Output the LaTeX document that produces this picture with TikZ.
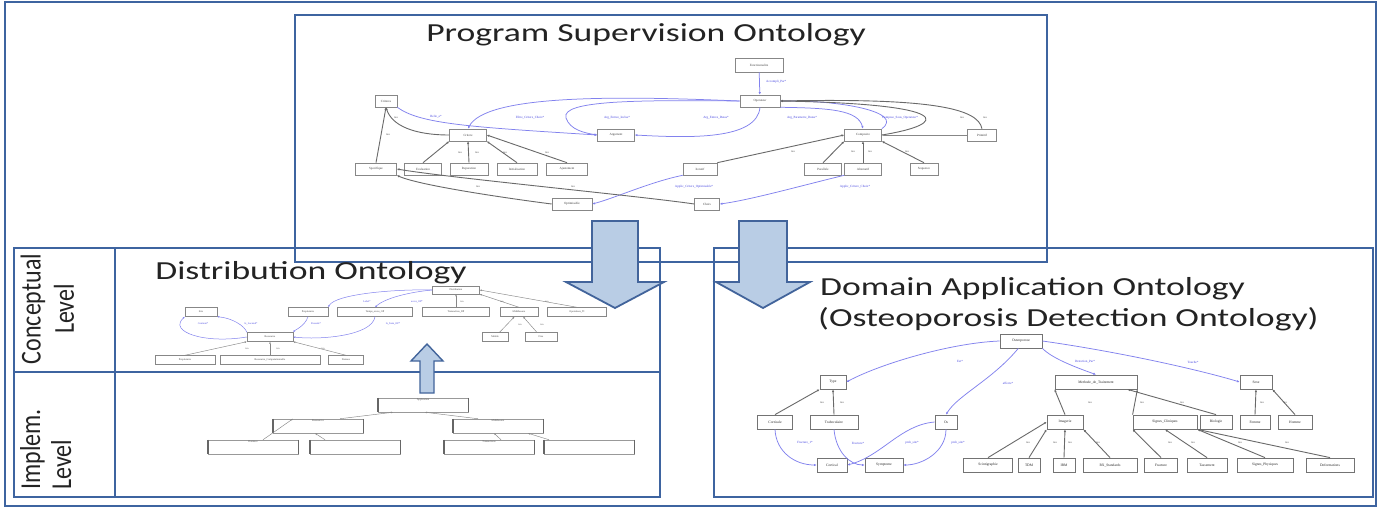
\documentclass[tikz,border=0pt]{standalone}
\usepackage{fontspec}
\setmainfont{Carlito}
\newfontfamily\serifnode{Liberation Serif}
\usetikzlibrary{arrows.meta,calc}

\definecolor{framec}{RGB}{62,100,160}
\definecolor{arrfill}{RGB}{185,205,229}
\definecolor{arrdraw}{RGB}{66,100,155}
\definecolor{reledge}{RGB}{130,130,238}
\definecolor{reltext}{RGB}{70,70,225}
\definecolor{isaedge}{RGB}{105,105,105}
\definecolor{boxline}{RGB}{135,135,135}
\definecolor{titletext}{RGB}{35,35,35}

\newcommand{\wtitle}[1]{\scalebox{1.37}[1]{#1}}
\newcommand{\wlevel}[1]{\scalebox{1}[1.2]{#1}}

\tikzset{
  frame/.style={draw=framec, line width=2.2pt},
  outerframe/.style={draw=framec, line width=1.4pt},
  bigarrow/.style={fill=arrfill, draw=arrdraw, line width=1.8pt, line join=miter},
  title/.style={font=\fontsize{26}{30}\selectfont, text=titletext, inner sep=0pt},
  leveltxt/.style={font=\fontsize{24}{26}\selectfont, text=titletext, inner sep=0pt, rotate=90},
  bw/.style={minimum width=#1pt},
  ont/.style={draw=boxline, fill=white, line width=0.6pt, inner sep=0pt,
    minimum height=12pt, font=\serifnode\fontsize{3.2}{3.6}\selectfont, text=black!75},
  dom/.style={ont, draw=black!55, line width=0.8pt, minimum height=14pt, font=\serifnode\fontsize{3.6}{4}\selectfont, text=black!85},
  dist/.style={ont, minimum height=9pt, line width=0.45pt, font=\serifnode\fontsize{2.6}{3}\selectfont},
  impl/.style={draw=black!40, fill=white, line width=0.5pt, inner sep=0pt,
    minimum width=90pt, minimum height=14pt,
    append after command={(\tikzlastnode.north west) edge[implbar] (\tikzlastnode.south west)
      (\tikzlastnode.north east) edge[implbar] (\tikzlastnode.south east)}},
  implbar/.style={draw=black!60, line width=1.5pt},
  impltxt/.style={font=\serifnode\fontsize{2.6}{3}\selectfont, text=black!70, inner sep=0.8pt, anchor=north},
  isa/.style={draw=isaedge, line width=0.9pt, -{Latex[length=2.6pt,width=2.4pt]}},
  isathin/.style={draw=isaedge!80, line width=0.45pt, -{Latex[length=2pt,width=1.8pt]}},
  rel/.style={draw=reledge, line width=0.75pt, -{Latex[length=2.6pt,width=2.4pt]}},
  relthin/.style={draw=reledge, line width=0.5pt, -{Latex[length=2pt,width=1.8pt]}},
  rlab/.style={font=\serifnode\fontsize{3.2}{3.6}\selectfont, text=reltext, inner sep=0pt},
  ilab/.style={font=\serifnode\fontsize{3}{3.4}\selectfont, text=black!70, inner sep=0pt},
  rlabs/.style={rlab, font=\serifnode\fontsize{2.6}{3}\selectfont},
  ilabs/.style={ilab, font=\serifnode\fontsize{2.6}{3}\selectfont},
}

\begin{document}
\begin{tikzpicture}[x=1pt, y=-1pt]
\useasboundingbox (0,0) rectangle (1379,508);
\fill[white] (0,0) rectangle (1379,508);

% ---------- frames ----------
\draw[outerframe] (5,2) rectangle (1376,506);
\draw[frame] (14,248) rectangle (660,497);
\draw[frame] (115,248) -- (115,497);
\draw[frame] (14,372) -- (660,372);
\draw[frame] (714,248) rectangle (1373,497);
\draw[frame] (295,15) rectangle (1047,262);

% ---------- titles ----------
\node[title, anchor=base] (tps) at (646,42) {\wtitle{Program Supervision Ontology}};
\node[title, anchor=base] (tdist) at (311,279) {\wtitle{Distribution Ontology}};
\node[title, anchor=base west] (tdom1) at (820,295) {\wtitle{Domain Application Ontology}};
\node[title, anchor=base west] (tdom2) at (818,326) {\wtitle{(Osteoporosis Detection Ontology)}};
\node[leveltxt] (lc1) at (33,309) {\wlevel{Conceptual}};
\node[leveltxt] (lc2) at (64,309) {\wlevel{Level}};
\node[leveltxt, anchor=north west] (li1) at (20,490) {\wlevel{Implem.}};
\node[leveltxt, anchor=north west] (li2) at (51,490) {\wlevel{Level}};

% ---------- program supervision ontology ----------
\node[ont,bw=48,minimum height=14pt] (fonc) at (759,65) {Fonctionnalite};
\node[ont,bw=40] (oper) at (760,101) {Operateur};
\node[ont,bw=22] (crits) at (386,101) {Criteres};
\node[ont,bw=37] (crit) at (468,135) {Critere};
\node[ont,bw=37] (arg) at (616,135) {Argument};
\node[ont,bw=37] (compo) at (863,135) {Composite};
\node[ont,bw=29] (prim) at (982,135) {Primitif};
\node[ont,bw=41] (spec) at (376,169) {Specifique};
\node[ont,bw=37] (eval) at (423,169) {Evaluation};
\node[ont,bw=38] (repa) at (469,169) {Reparation};
\node[ont,bw=40] (init) at (517,169) {Initialisation};
\node[ont,bw=41] (ajus) at (567,169) {Ajustement};
\node[ont,bw=34] (iter) at (700,169) {Iteratif};
\node[ont,bw=37] (para) at (823,169) {Parallele};
\node[ont,bw=37] (alte) at (863,169) {Alternatif};
\node[ont,bw=28] (sequ) at (924,169) {Sequence};
\node[ont,bw=40] (opti) at (572,204) {Optimisable};
\node[ont,bw=25] (choi) at (707,204) {Choix};

% relations
\draw[rel] (fonc) -- (oper);
\node[rlab, anchor=west] (l1) at (766,82) {Accompli\_Par*};
\draw[rel] (oper.west) .. controls (620,96) and (485,94) .. (crit.north);
\node[rlab] (l2) at (530,118) {Filtre\_Critere\_Choix*};
\draw[rel] (oper.west) .. controls (640,100) and (560,100) .. (566,118)
  .. controls (570,130) and (585,133) .. (arg.west);
\node[rlab] (l3) at (617,118) {Arg\_Entree\_Inclus*};
\draw[rel] (oper.south) .. controls (757,140) and (690,138) .. (arg.east);
\node[rlab] (l4) at (716,118) {Arg\_Entree\_Datas*};
\draw[rel] (oper.south east) .. controls (830,108) and (858,110) .. (compo.north);
\node[rlab] (l5) at (802,118) {Arg\_Parametre\_Datas*};
\draw[rel] (crits.south east) .. controls (420,124) and (470,127) .. (arg.west);
\node[rlab] (l6) at (436,117) {Relie\_a*};
\draw[rel] (compo.north east) .. controls (905,112) and (840,100) .. (oper.east);
\node[rlab] (l7) at (900,118) {Compose\_Sous\_Operateur*};
\draw[rel] (iter.south west) .. controls (650,182) and (615,198) .. (opti.east);
\node[rlab] (l8) at (694,187) {Applic\_Critere\_Optimisable*};
\draw[rel] (alte.south west) .. controls (800,186) and (750,200) .. (choi.east);
\node[rlab] (l9) at (855,187) {Applic\_Critere\_Choix*};

% isa links
\draw[isa] (prim.north) .. controls (978,108) and (930,98) .. (oper.east);
\node[ilab] (i1) at (985,118) {isa};
\draw[isa] (compo.east) .. controls (950,124) and (955,104) .. (oper.east);
\node[ilab] (i2) at (962,118) {isa};
\draw[isathin] (prim.west) -- (compo.east);
\draw[isa] (crit.west) .. controls (415,135) and (392,126) .. (crits.south);
\node[ilab] (i3) at (396,118) {isa};
\draw[isa] (spec.north) -- (crits.south);
\node[ilab] (i4) at (388,135) {isa};
\draw[isa] (eval.north) -- (crit.south west);
\draw[isa] (repa.north) -- (crit.south);
\draw[isa] (init.north) -- (crit.south east);
\draw[isa] (ajus.north) -- (crit.east);
\node[ilab] (i5) at (460,153) {isa};
\node[ilab] (i6) at (477,153) {isa};
\node[ilab] (i7) at (505,153) {isa};
\node[ilab] (i8) at (547,153) {isa};
\draw[isa] (opti.west) .. controls (520,200) and (420,186) .. (spec.south east);
\node[ilab] (i9) at (478,187) {isa};
\draw[isa] (choi.west) .. controls (640,196) and (450,178) .. (spec.east);
\node[ilab] (i10) at (573,187) {isa};
\draw[isa] (iter.north east) -- (compo.west);
\node[ilab] (i11) at (793,152) {isa};
\draw[isa] (para.north) -- (compo.south west);
\draw[isa] (alte.north) -- (compo.south);
\draw[isa] (sequ.north) -- (compo.south east);
\node[ilab] (i12) at (853,152) {isa};
\node[ilab] (i13) at (870,152) {isa};
\node[ilab] (i14) at (907,152) {isa};

% ---------- distribution ontology (conceptual level) ----------
\node[dist,bw=47,minimum height=8pt] (distr) at (456,290) {Distribution};
\node[dist,bw=32] (site) at (201,312) {Site};
\node[dist,bw=40] (prop) at (308,312) {Proprietaire};
\node[dist,bw=75] (temps) at (375,312) {Temps\_acces\_OP};
\node[dist,bw=67] (trans) at (456,312) {Transaction\_DP};
\node[dist,bw=38] (midd) at (519,312) {Middleware};
\node[dist,bw=59] (opti2) at (577,312) {Operations\_TI};
\node[dist,bw=46] (ress) at (270,337) {Ressource};
\node[dist,bw=60] (ress1) at (185,360) {Proprietaire};
\node[dist,bw=100] (ress2) at (270,360) {Ressource\_Computationnelle};
\node[dist,bw=35] (ress3) at (346,360) {Donnee};
\node[dist,bw=26] (mob) at (495,337) {Mobile};
\node[dist,bw=32] (fixe) at (541,337) {Fixe};

\draw[isathin] (trans) -- (distr);
\draw[isathin] (midd.north) -- (distr.south east);
\draw[isathin] (opti2.north) -- (distr.east);
\draw[isathin] (mob) -- (midd);
\draw[isathin] (fixe) -- (midd);
\draw[isathin] (ress1.north) -- (ress.south west);
\draw[isathin] (ress2.north) -- (ress.south);
\draw[isathin] (ress3.north) -- (ress.south east);
\node[ilabs] (d1) at (462,302) {isa};
\node[ilabs] (d2) at (502,302) {isa};
\node[ilabs] (d3) at (547,302) {isa};
\node[ilabs] (d4) at (520,325) {isa};
\node[ilabs] (d5) at (542,325) {isa};
\node[ilabs] (d6) at (247,349) {isa};
\node[ilabs] (d7) at (278,349) {isa};
\node[ilabs] (d8) at (323,349) {isa};

\draw[relthin] (distr.west) .. controls (395,289) and (335,294) .. (prop.north east);
\node[rlabs] (d9) at (367,302) {Label*};
\draw[relthin] (distr.west) .. controls (410,292) and (385,298) .. (temps.north);
\node[rlabs] (d10) at (417,302) {acces\_OP*};
\draw[relthin] (prop.south) .. controls (305,326) and (295,330) .. (ress.north east);
\node[rlabs] (d11) at (316,324) {Possede*};
\draw[relthin] (temps.south) .. controls (372,336) and (320,340) .. (ress.east);
\node[rlabs] (d12) at (393,324) {Is\_from\_OP*};
\draw[relthin] (ress.north west) .. controls (245,326) and (232,318) .. (site.south east);
\node[rlabs] (d13) at (251,324) {Is\_Located*};
\draw[relthin] (ress.west) .. controls (205,344) and (168,332) .. (site.south west);
\node[rlabs] (d14) at (203,324) {Contient*};

% ---------- implementation level ----------
\node[impl] (p0) at (423,405) {};
\node[impl] (p1) at (318,426) {};
\node[impl] (p2) at (498,426) {};
\node[impl] (p3) at (253,447) {};
\node[impl] (p4) at (355,447) {};
\node[impl] (p5) at (489,447) {};
\node[impl] (p6) at (589,447) {};
\node[impltxt] (q0) at (p0.north) {Application};
\node[impltxt] (q1) at (p1.north) {Ressources};
\node[impltxt] (q2) at (p2.north) {Middleware};
\node[impltxt] (q3) at (p3.north) {Donnees};
\node[impltxt] (q5) at (p5.north) {Transactions};
\draw[isathin] ($(p1.north)+(22,0)$) -- ($(p0.south)+(-30,0)$);
\draw[isathin] ($(p2.north)+(-20,0)$) -- ($(p0.south)+(2,0)$);
\draw[isathin] ($(p3.north)+(10,0)$) -- ($(p1.north)+(-25,0)$);
\draw[isathin] ($(p4.north)+(-30,0)$) -- ($(p1.south)+(-3,0)$);
\draw[isathin] ($(p5.north)+(12,0)$) -- ($(p2.south)+(-4,0)$);
\draw[isathin] ($(p6.north)+(-40,0)$) -- ($(p2.south)+(30,0)$);

% ---------- domain application ontology ----------
\node[dom,bw=42] (osteo) at (1021,341) {Osteoporose};
\node[dom,bw=26] (type) at (833,382) {Type};
\node[dom,bw=82] (meth) at (1096,382) {Methode\_de\_Traitement};
\node[dom,bw=32] (sexe) at (1256,382) {Sexe};
\node[dom,bw=35] (cort) at (775,422) {Corticale};
\node[dom,bw=48] (trab) at (834,422) {Trabeculaire};
\node[dom,bw=22] (os) at (946,422) {Os};
\node[dom,bw=36] (imag) at (1065,422) {Imagerie};
\node[dom,bw=64] (sign) at (1165,422) {Signes\_Cliniques};
\node[dom,bw=32] (biol) at (1216,422) {Biologie};
\node[dom,bw=30] (femm) at (1255,422) {Femme};
\node[dom,bw=34] (homm) at (1295,422) {Homme};
\node[dom,bw=30] (cortb) at (832,465) {Cortical};
\node[dom,bw=38] (symp) at (884,465) {Symptome};
\node[dom,bw=49] (scin) at (988,465) {Scintigraphie};
\node[dom,bw=22] (tdm) at (1029,465) {TDM};
\node[dom,bw=22] (irm) at (1064,465) {IRM};
\node[dom,bw=54] (rx) at (1110,465) {RX\_Standards};
\node[dom,bw=33] (frac) at (1161,465) {Fracture};
\node[dom,bw=40] (tass) at (1207,465) {Tassement};
\node[dom,bw=56] (sphy) at (1265,465) {Signes\_Physiques};
\node[dom,bw=48] (defo) at (1330,465) {Deformations};

\draw[rel] (osteo.west) .. controls (950,343) and (880,364) .. (type.east);
\node[rlab] (o1) at (960,361) {Est*};
\draw[rel] (osteo.250) .. controls (992,380) and (958,395) .. (os.north);
\node[rlab] (o2) at (1008,383) {affecte*};
\draw[rel] (osteo.south east) .. controls (1052,358) and (1072,366) .. (meth.north);
\node[rlab] (o3) at (1085,362) {Detection\_Par*};
\draw[rel] (osteo.east) .. controls (1120,352) and (1200,370) .. (sexe.west);
\node[rlab] (o4) at (1193,362) {Touche*};

\draw[isa] (cort.north) -- (type.south west);
\draw[isa] (trab.north) -- (type.south);
\node[ilab] (o5) at (822,403) {isa};
\node[ilab] (o6) at (842,403) {isa};
\draw[isa] (imag.north) -- (meth.south west);
\draw[isa] (sign.north west) -- (meth.south east);
\draw[isa] (biol.north) -- ($(meth.south east)+(-10,0)$);
\node[ilab] (o7) at (1090,403) {isa};
\node[ilab] (o8) at (1142,403) {isa};
\node[ilab] (o9) at (1182,403) {isa};
\draw[isa] (femm.north) -- (sexe.south);
\draw[isa] (homm.north) -- (sexe.south east);
\node[ilab] (o10) at (1262,403) {isa};
\node[ilab] (o11) at (1285,403) {isa};
\draw[isa] (scin.north) -- (imag.west);
\draw[isa] (tdm.north) -- (imag.south west);
\draw[isa] (irm.north) -- (imag.south);
\draw[isa] (rx.north) -- (imag.south east);
\node[ilab] (o12) at (1028,443) {isa};
\node[ilab] (o13) at (1055,443) {isa};
\node[ilab] (o14) at (1070,443) {isa};
\node[ilab] (o15) at (1098,443) {isa};
\draw[isa] (frac.north) -- (sign.south west);
\draw[isa] (tass.north) -- (sign.south);
\draw[isa] (sphy.north) -- (sign.south east);
\draw[isa] (defo.north) -- (sign.south east);
\node[ilab] (o16) at (1170,443) {isa};
\node[ilab] (o17) at (1193,443) {isa};
\node[ilab] (o18) at (1240,443) {isa};
\node[ilab] (o19) at (1287,443) {isa};

\draw[rel] (cort.south) .. controls (776,452) and (795,465) .. (cortb.west);
\node[rlab] (o20) at (805,443) {Fracture\_1*};
\draw[rel] (trab.south) .. controls (836,452) and (850,465) .. (symp.west);
\node[rlab] (o21) at (858,443) {Fracture*};
\draw[rel] (os.west) .. controls (900,425) and (882,456) .. (cortb.east);
\node[rlab] (o22) at (912,443) {prob\_site*};
\draw[rel] (os.south) .. controls (946,452) and (922,465) .. (symp.east);
\node[rlab] (o23) at (958,443) {prob\_site*};

% ---------- block arrows ----------
\filldraw[bigarrow] (592,221) -- (638,221) -- (638,282) -- (664,282) -- (615,308)
  -- (566,282) -- (592,282) -- cycle;
\filldraw[bigarrow] (739,221) -- (787,221) -- (787,282) -- (810,282) -- (763,308)
  -- (716,282) -- (739,282) -- cycle;
\filldraw[bigarrow, line width=1.4pt] (420,393) -- (420,361) -- (411,361) -- (427,344)
  -- (443,361) -- (434,361) -- (434,393) -- cycle;
\end{tikzpicture}
\end{document}
